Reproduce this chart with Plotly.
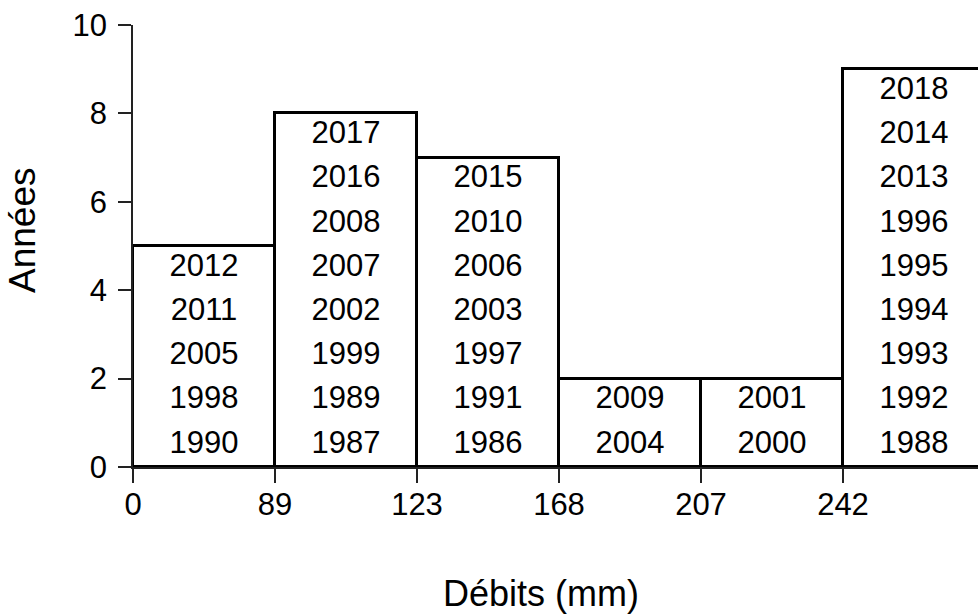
import plotly.graph_objects as go

# Data
bin_labels = ["0", "89", "123", "168", "207", "242"]
counts = [5, 8, 7, 2, 2, 9]
years = [
    ["2012", "2011", "2005", "1998", "1990"],
    ["2017", "2016", "2008", "2007", "2002", "1999", "1989", "1987"],
    ["2015", "2010", "2006", "2003", "1997", "1991", "1986"],
    ["2009", "2004"],
    ["2001", "2000"],
    ["2018", "2014", "2013", "1996", "1995", "1994", "1993", "1992", "1988"],
]

FONT = "Liberation Sans, Arial, sans-serif"
W, H = 978, 616
L, R, T, B = 133, 0, 25, 149
pw = W - L - R
ph = H - T - B
step = 142.0
xmax = pw / step

fig = go.Figure()
fig.add_trace(go.Bar(
    x=[i + 0.5 for i in range(len(counts))],
    y=counts,
    width=1.0,
    marker=dict(color="white", line=dict(color="black", width=3)),
    hoverinfo="skip",
    showlegend=False,
))

tx, ty, tt = [], [], []
for i, ys in enumerate(years):
    n = len(ys)
    for k, yr in enumerate(ys):
        tx.append(i + 0.5)
        ty.append(n - k - 0.5)
        tt.append(yr)
fig.add_trace(go.Scatter(
    x=tx, y=ty, text=tt, mode="text",
    textfont=dict(family=FONT, size=31, color="black"),
    textposition="middle center",
    hoverinfo="skip", showlegend=False,
))

fig.update_layout(
    width=W, height=H,
    margin=dict(l=L, r=R, t=T, b=B),
    paper_bgcolor="white", plot_bgcolor="white",
    font=dict(family=FONT, size=31, color="black"),
    bargap=0,
    xaxis=dict(
        range=[0, xmax], tickmode="array",
        tickvals=list(range(len(bin_labels))), ticktext=bin_labels,
        showgrid=False, zeroline=False,
        showline=True, linecolor="#222", linewidth=1.5,
        ticks="outside", ticklen=14, tickwidth=1.5, tickcolor="#222",
        ticklabelstandoff=-5,
        tickfont=dict(family=FONT, size=31, color="black"),
    ),
    yaxis=dict(
        range=[0, 10], tickmode="array", tickvals=[0, 2, 4, 6, 8, 10],
        showgrid=False, zeroline=False,
        showline=True, linecolor="#222", linewidth=1.5,
        ticks="outside", ticklen=13, tickwidth=1.5, tickcolor="#222",
        ticklabelstandoff=5,
        tickfont=dict(family=FONT, size=31, color="black"),
    ),
    annotations=[
        dict(text="Débits (mm)", xref="paper", yref="paper",
             x=(541 - L) / pw, y=(T + ph - 594) / ph,
             xanchor="center", yanchor="middle", showarrow=False,
             font=dict(family=FONT, size=36, color="black")),
        dict(text="Années", xref="paper", yref="paper",
             x=(22 - L) / pw, y=(T + ph - 230) / ph,
             xanchor="center", yanchor="middle", showarrow=False, textangle=-90,
             font=dict(family=FONT, size=37, color="black")),
    ],
)

fig.write_html("out.html", config={"displayModeBar": False},
               post_script="document.body.style.margin='0';document.body.style.overflow='hidden';")
